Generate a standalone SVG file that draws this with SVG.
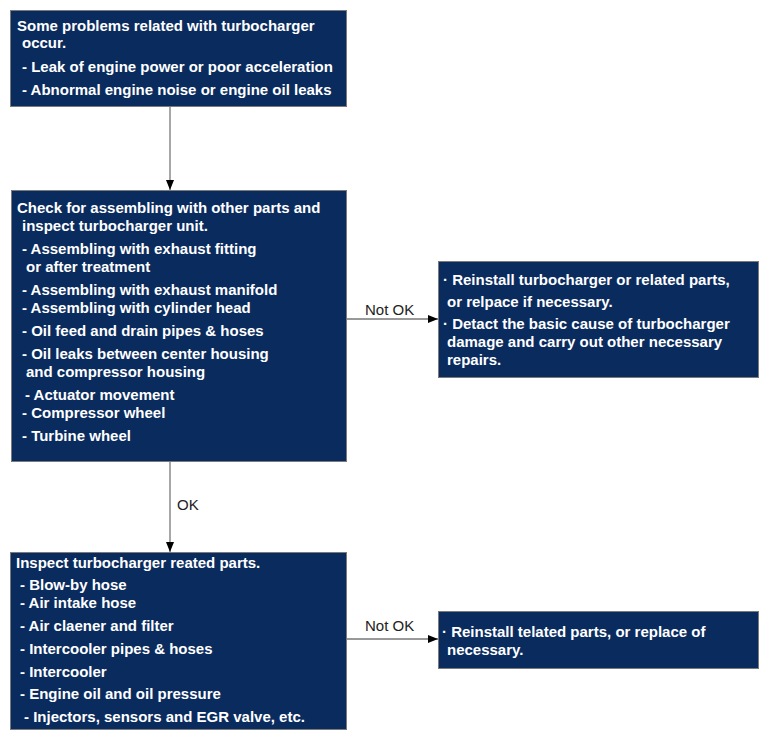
<svg xmlns="http://www.w3.org/2000/svg" width="768" height="741" viewBox="0 0 768 741">
<style>
.box{fill:#0a2b5e;stroke:#7a7a7a;stroke-width:1}
.t{font-family:"Liberation Sans",Arial,sans-serif;font-weight:bold;font-size:15px;fill:#ffffff}
.lbl{font-family:"Liberation Sans",Arial,sans-serif;font-size:15px;fill:#222222}
.v{stroke:#8a8a8a;stroke-width:1.5;fill:none}
.h{stroke:#333333;stroke-width:1;fill:none}
</style>
<defs>
<marker id="ah" viewBox="0 0 10 8" refX="10" refY="4" markerWidth="10" markerHeight="8" markerUnits="userSpaceOnUse" orient="auto">
<path d="M0,0 L10,4 L0,8 Z" fill="#000"/>
</marker>
</defs>
<rect width="768" height="741" fill="#ffffff"/>
<g id="connectors">
<line class="v" x1="170" y1="106" x2="170" y2="190" marker-end="url(#ah)"/>
<line class="v" x1="170" y1="461" x2="170" y2="552" marker-end="url(#ah)"/>
<line class="h" x1="347" y1="319" x2="438" y2="319" marker-end="url(#ah)"/>
<line class="h" x1="347" y1="639" x2="438" y2="639" marker-end="url(#ah)"/>
<text class="lbl" x="365" y="315">Not OK</text>
<text class="lbl" x="177" y="510">OK</text>
<text class="lbl" x="365" y="631">Not OK</text>
</g>
<g id="n1">
<rect class="box" x="10.5" y="10.5" width="336" height="96"/>
<text class="t" x="17" y="31">Some problems related with turbocharger</text>
<text class="t" x="22" y="48">occur.</text>
<text class="t" x="22" y="72">- Leak of engine power or poor acceleration</text>
<text class="t" x="22" y="95">- Abnormal engine noise or engine oil leaks</text>
</g>
<g id="n2">
<rect class="box" x="11.5" y="190.5" width="335" height="271"/>
<text class="t" x="17" y="213">Check for assembling with other parts and</text>
<text class="t" x="22" y="231">inspect turbocharger unit.</text>
<text class="t" x="22" y="254">- Assembling with exhaust fitting</text>
<text class="t" x="26" y="272">or after treatment</text>
<text class="t" x="22" y="295">- Assembling with exhaust manifold</text>
<text class="t" x="22" y="313">- Assembling with cylinder head</text>
<text class="t" x="22" y="336">- Oil feed and drain pipes &amp; hoses</text>
<text class="t" x="22" y="359">- Oil leaks between center housing</text>
<text class="t" x="26" y="377">and compressor housing</text>
<text class="t" x="25" y="400">- Actuator movement</text>
<text class="t" x="22" y="418">- Compressor wheel</text>
<text class="t" x="22" y="441">- Turbine wheel</text>
</g>
<g id="n3">
<rect class="box" x="438.5" y="261.5" width="320" height="116"/>
<text class="t" x="443" y="285">· Reinstall turbocharger or related parts,</text>
<text class="t" x="447" y="307">or relpace if necessary.</text>
<text class="t" x="443" y="329">· Detact the basic cause of turbocharger</text>
<text class="t" x="447" y="347">damage and carry out other necessary</text>
<text class="t" x="447" y="365">repairs.</text>
</g>
<g id="n4">
<rect class="box" x="10.5" y="552.5" width="336" height="177"/>
<text class="t" x="16" y="568">Inspect turbocharger reated parts.</text>
<text class="t" x="20" y="590">- Blow-by hose</text>
<text class="t" x="20" y="608">- Air intake hose</text>
<text class="t" x="20" y="631">- Air claener and filter</text>
<text class="t" x="20" y="654">- Intercooler pipes &amp; hoses</text>
<text class="t" x="20" y="677">- Intercooler</text>
<text class="t" x="20" y="699">- Engine oil and oil pressure</text>
<text class="t" x="24" y="722">- Injectors, sensors and EGR valve, etc.</text>
</g>
<g id="n5">
<rect class="box" x="438.5" y="611.5" width="320" height="57"/>
<text class="t" x="442" y="637">· Reinstall telated parts, or replace of</text>
<text class="t" x="447" y="655">necessary.</text>
</g>
</svg>
